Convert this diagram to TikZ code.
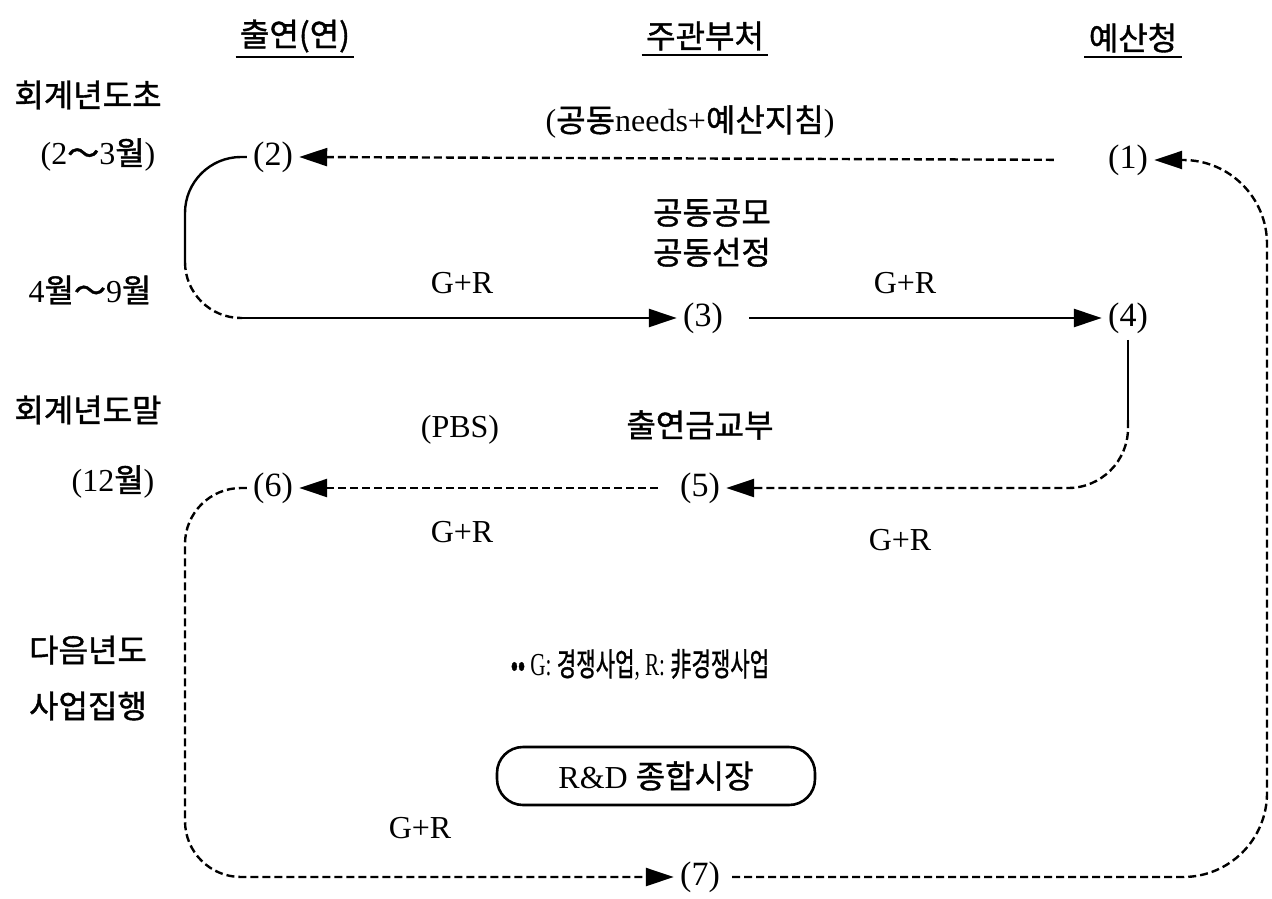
\documentclass[tikz,border=0pt]{standalone}
\usepackage{fontspec}
\usepackage{graphicx}
\setmainfont{Liberation Serif}
\newfontfamily\krfont{Noto Sans CJK KR}[AutoFakeBold=1.2]
\newcommand\kr{\krfont\bfseries}
\usetikzlibrary{arrows.meta}
\tikzset{
    lbl/.style={font=\fontsize{16}{20}\selectfont, inner sep=2pt},
    num/.style={font=\fontsize{17}{20}\selectfont, inner sep=3pt},
    ln/.style={line width=1.2pt},
    dln/.style={line width=1.2pt, dash pattern=on 4pt off 2pt},
    tip/.style={-{Triangle[length=14pt,width=9pt]}},
    mkt/.style={lbl, draw, line width=1.3pt, rounded corners=13pt,
        minimum width=159pt, minimum height=29pt}
}
\begin{document}
\begin{tikzpicture}[x=0.5pt, y=-0.5pt]
    \useasboundingbox (0,0) rectangle (1272,898);
    % column heads
    \node[lbl] (hYeon) at (295,36) {\kr 출연(연)};
    \node[lbl] (hBu) at (705,36) {\kr 주관부처};
    \node[lbl] (hCheong) at (1133,38) {\kr 예산청};
    \draw[ln] (hYeon.south west) -- (hYeon.south east);
    \draw[ln] (hBu.south west) -- (hBu.south east);
    \draw[ln] (hCheong.south west) -- (hCheong.south east);
    % time column
    \node[lbl] (tBegin) at (88,95) {\kr 회계년도초};
    \node[lbl] (tFeb) at (98,155) {(2{\kr ～}3{\kr 월})};
    \node[lbl] (tApr) at (90,290) {4{\kr 월～}9{\kr 월}};
    \node[lbl] (tEnd) at (88,410) {\kr 회계년도말};
    \node[lbl] (tDec) at (113,482) {(12{\kr 월})};
    \node[lbl] (tNext) at (88,650) {\kr 다음년도};
    \node[lbl] (tExec) at (88,706) {\kr 사업집행};
    % steps
    \node[num] (n1) at (1128,160) {(1)};
    \node[num] (n2) at (273,157) {(2)};
    \node[num] (n3) at (703,318) {(3)};
    \node[num] (n4) at (1128,318) {(4)};
    \node[num] (n5) at (700,488) {(5)};
    \node[num] (n6) at (273,488) {(6)};
    \node[num] (n7) at (700,877) {(7)};
    % labels
    \node[lbl] (needs) at (690,122) {({\kr 공동}needs+{\kr 예산지침})};
    \node[lbl, align=center] (joint) at (712,233) {\kr 공동공모\\\kr 공동선정};
    \node[lbl] (gr23) at (462,283) {G+R};
    \node[lbl] (gr34) at (905,283) {G+R};
    \node[lbl] (pbs) at (460,430) {(PBS)};
    \node[lbl] (grant) at (700,425) {\kr 출연금교부};
    \node[lbl] (gr56) at (462,532) {G+R};
    \node[lbl] (gr45) at (900,540) {G+R};
    \node[lbl] (note) at (640,665)
        {\scalebox{0.66}[1]{{\kr ••} G: {\kr 경쟁사업}, R: {\kr 非경쟁사업}}};
    \node[mkt] (market) at (656,776) {R\&D {\kr 종합시장}};
    \node[lbl] (gr67) at (420,828) {G+R};
    % bends
    \coordinate (c2a) at (185,262);
    \coordinate (c2b) at (242,318);
    \coordinate (c4) at (1128,420);
    \coordinate (rgt) at (1267,0);
    % connectors
    \draw[dln, tip, shorten <=24pt] (n1.west) -- (n2.east);
    \draw[ln, rounded corners=28pt] (n2.west) -- (n2.west -| c2a) -- (c2a);
    \draw[dln, rounded corners=28pt] (c2a) -- (c2a |- c2b) -- (c2b);
    \draw[ln, tip] (c2b) -- (n3.west);
    \draw[ln, tip, shorten <=10pt] (n3.east) -- (n4.west);
    \draw[ln] (n4.south) -- (c4);
    \draw[dln, tip, rounded corners=30pt] (c4) -- (c4 |- n5.east) -- (n5.east);
    \draw[dln, tip, shorten <=8pt] (n5.west) -- (n6.east);
    \draw[dln, tip, rounded corners=28pt]
        (n6.west) -- (n6.west -| c2a) -- (c2a |- n7.west) -- (n7.west);
    \draw[dln, tip, rounded corners=42pt, shorten <=3pt]
        (n7.east) -- (n7.east -| rgt) -- (n1.east -| rgt) -- (n1.east);
\end{tikzpicture}
\end{document}
